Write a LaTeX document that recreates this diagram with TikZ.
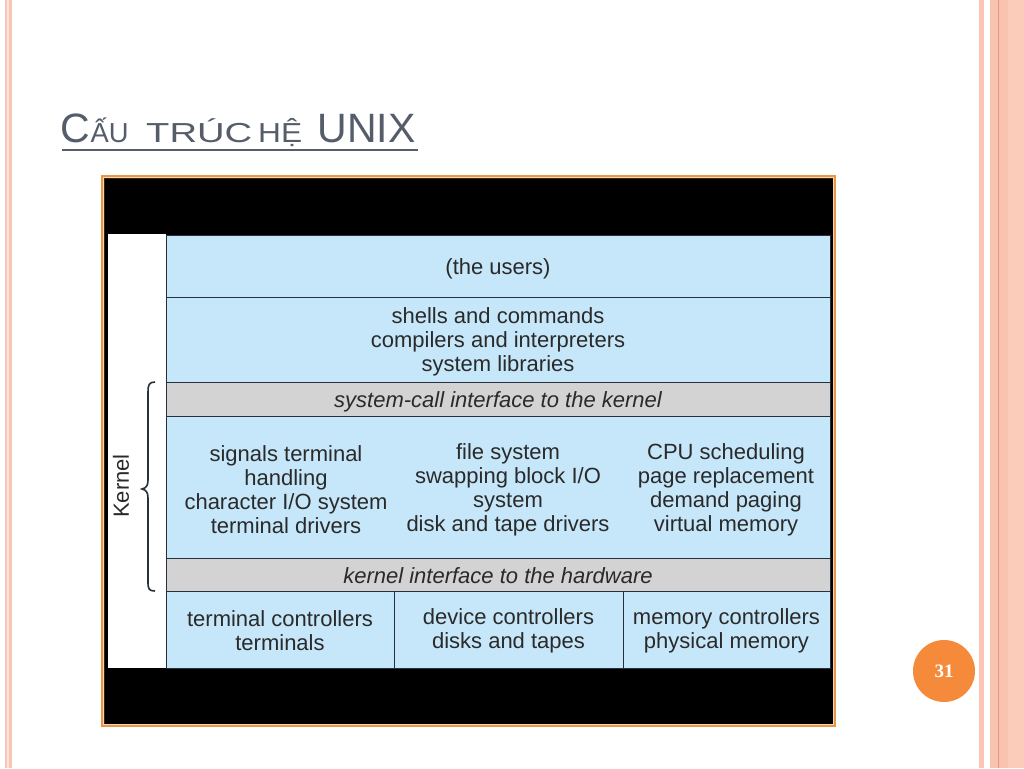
\documentclass[tikz,border=0pt]{standalone}
\usepackage{fontspec}
\usepackage{graphicx}
\setmainfont{Liberation Sans}
\newfontfamily\serifnum{Liberation Serif}
\definecolor{bluebox}{HTML}{C6E7F9}
\definecolor{graybox}{HTML}{D3D3D3}
\definecolor{edge}{HTML}{26313C}
\definecolor{titlec}{HTML}{555D6A}
\definecolor{txt}{HTML}{2A2A2A}
\definecolor{pinkA}{HTML}{F9C6B5}
\definecolor{pinkB}{HTML}{FCE4DA}
\definecolor{peachA}{HTML}{F8C3AF}
\definecolor{peachB}{HTML}{FCCCBA}
\definecolor{peachline}{HTML}{E09A7C}
\definecolor{frameorange}{HTML}{E8964A}
\definecolor{framelight}{HTML}{F7D6AE}
\definecolor{framedark}{HTML}{3A2410}
\definecolor{badge}{HTML}{F68A3B}
\newcommand{\bodyfnt}{\fontsize{22}{24}\selectfont}
\begin{document}
\begin{tikzpicture}[x=1pt,y=-1pt,
  layerbox/.style={draw=edge, line width=1pt, fill=bluebox, inner sep=0pt},
  ifacebox/.style={layerbox, fill=graybox},
  coltext/.style={inner sep=0pt, text=txt, align=center, font=\bodyfnt, yshift=-2.5pt},
  itext/.style={coltext, font=\bodyfnt\itshape},
  titletext/.style={anchor=base west, inner sep=0pt, text=titlec},
  bigcap/.style={titletext, font=\fontsize{41}{41}\selectfont},
  smallcap/.style={titletext, font=\fontsize{27.5}{27.5}\selectfont}
]
\useasboundingbox (0,0) rectangle (1024,768);
\fill[white] (0,0) rectangle (1024,768);
% side stripes
\fill[pinkA] (5,0) rectangle (11.5,768);
\fill[pinkB] (7.3,0) rectangle (9,768);
\fill[pinkA] (979,0) rectangle (983.5,768);
\fill[peachA] (990,0) rectangle (1008,768);
\fill[peachB] (1008,0) rectangle (1024,768);
\draw[peachline, line width=1pt] (998,0) -- (998,768);
% title
\node[bigcap] (tC) at (60.5,142) {C};
\node[smallcap] (tAU) at (90.5,142) {\resizebox{38pt}{\height}{ẤU}};
\node[smallcap] (tTRUC) at (146,142) {\resizebox{106pt}{\height}{TRÚC}};
\node[smallcap] (tHE) at (258,142) {\resizebox{44pt}{\height}{HỆ}};
\node[bigcap] (tUNIX) at (317.5,142) {UNIX};
\draw[titlec, line width=2.5pt] (62,150) -- (418,150);
% frame
\fill[frameorange] (101,175) rectangle (836,727);
\fill[framelight] (102.6,176.6) rectangle (834.4,725.4);
\fill[framedark] (103.6,177.6) rectangle (833.4,724.4);
\fill[black] (105,179) rectangle (832.5,723.5);
% kernel column
\fill[white] (108,234) rectangle (166,668);
% layers
\node[layerbox, minimum width=664pt, minimum height=62pt] (users) at (498,266) {};
\node[coltext] (usersT) at (users.center) {(the users)};
\node[layerbox, minimum width=664pt, minimum height=85pt] (shells) at (498,339.5) {};
\node[coltext] (shellsT) at (shells.center)
  {shells and commands\\compilers and interpreters\\system libraries};
\node[ifacebox, minimum width=664pt, minimum height=34pt] (syscall) at (498,399) {};
\node[itext] (syscallT) at (syscall.center) {system-call interface to the kernel};
\node[layerbox, minimum width=664pt, minimum height=142pt] (kernelarea) at (498,487) {};
\node[coltext] (colA) at (286,487) {signals terminal\\handling\\character I/O system\\terminal drivers};
\node[coltext] (colB) at (508,487) {file system\\swapping block I/O\\system\\disk and tape drivers};
\node[coltext] (colC) at (726,487) {CPU scheduling\\page replacement\\demand paging\\virtual memory};
\node[ifacebox, minimum width=664pt, minimum height=33pt] (hwif) at (498,574.5) {};
\node[itext, yshift=1pt] (hwifT) at (hwif.center) {kernel interface to the hardware};
\node[layerbox, minimum width=228pt, minimum height=77pt] (termctl) at (280,629.5) {};
\node[coltext, yshift=1pt] (termctlT) at (termctl.center) {terminal controllers\\terminals};
\node[layerbox, minimum width=229pt, minimum height=77pt] (devctl) at (508.5,629.5) {};
\node[coltext, yshift=1pt] (devctlT) at (devctl.center) {device controllers\\disks and tapes};
\node[layerbox, minimum width=207pt, minimum height=77pt] (memctl) at (726.5,629.5) {};
\node[coltext, yshift=1pt] (memctlT) at (memctl.center) {memory controllers\\physical memory};
% kernel brace and label
\coordinate (braceTop) at (155,382);
\coordinate (braceTip) at (142,489);
\coordinate (braceBot) at (155,591);
\draw[edge, line width=1.6pt] (braceTop) .. controls (149,382) and (148,385) .. (148,392)
  -- (148,480) .. controls (148,486) and (146,488) .. (braceTip)
  .. controls (146,490) and (148,492) .. (148,498)
  -- (148,582) .. controls (148,589) and (149,591) .. (braceBot);
\node[rotate=90, inner sep=0pt, text=txt, font=\bodyfnt] (kernel) at (121,486) {Kernel};
% page number
\node[circle, fill=badge, minimum size=62pt, inner sep=0pt, text=white,
  font=\serifnum\bfseries\fontsize{19}{19}\selectfont] (pg) at (944,671) {31};
\end{tikzpicture}
\end{document}
